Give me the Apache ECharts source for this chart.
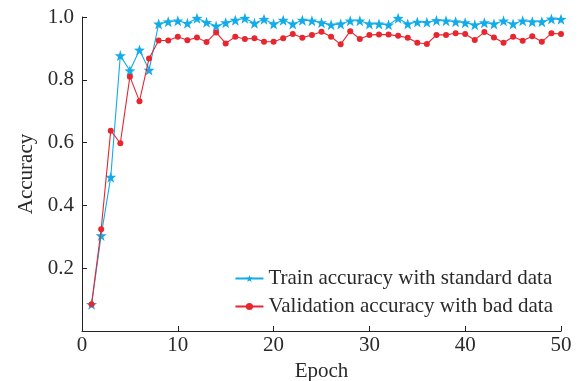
<!DOCTYPE html>
<html><head><meta charset="utf-8">
<script src="https://cdn.jsdelivr.net/npm/echarts@6/dist/echarts.min.js"></script>
<style>html,body{margin:0;padding:0;background:#fff}#c{width:585px;height:381px}</style>
</head><body><div id="c"></div>
<script>
const epochs = [1,2,3,4,5,6,7,8,9,10,11,12,13,14,15,16,17,18,19,20,21,22,23,24,25,26,27,28,29,30,31,32,33,34,35,36,37,38,39,40,41,42,43,44,45,46,47,48,49,50];
const trainStandard = [0.085,0.304,0.490,0.877,0.829,0.895,0.831,0.978,0.985,0.988,0.980,0.996,0.983,0.971,0.982,0.990,0.996,0.980,0.993,0.978,0.990,0.978,0.990,0.988,0.982,0.975,0.978,0.988,0.988,0.978,0.978,0.975,0.996,0.978,0.984,0.983,0.989,0.988,0.985,0.982,0.975,0.982,0.978,0.988,0.978,0.988,0.985,0.985,0.994,0.993];
const valBad = [0.085,0.324,0.638,0.598,0.810,0.732,0.868,0.925,0.925,0.937,0.926,0.935,0.920,0.951,0.916,0.937,0.930,0.932,0.921,0.921,0.932,0.946,0.934,0.943,0.953,0.937,0.913,0.955,0.930,0.943,0.944,0.944,0.940,0.934,0.918,0.914,0.943,0.943,0.948,0.946,0.927,0.952,0.935,0.918,0.937,0.924,0.939,0.921,0.948,0.946];
const seriesNames = ['Train accuracy with standard data','Validation accuracy with bad data'];
const xTitle = 'Epoch', yTitle = 'Accuracy';

const font = 'Liberation Serif';
const txt = '#2a2a2a';
const fs = 21;
const chart = echarts.init(document.getElementById('c'));
chart.setOption({
  animation: false,
  grid: {left: 82, right: 24, top: 17, bottom: 50, containLabel: false, outerBoundsMode: 'none'},
  legend: {
    right: 27, bottom: 59, orient: 'vertical', itemGap: 7,
    itemWidth: 28, itemHeight: 9,
    textStyle: {fontFamily: font, fontSize: fs, lineHeight: 21, color: txt},
    data: seriesNames
  },
  xAxis: {
    type: 'value', min: 0, max: 50, interval: 10,
    name: xTitle, nameLocation: 'middle', nameGap: 27,
    nameTextStyle: {fontFamily: font, fontSize: fs, color: txt},
    axisLine: {lineStyle: {color: '#222', width: 1}},
    axisTick: {inside: true, length: 5, lineStyle: {color: '#222'}},
    axisLabel: {fontFamily: font, fontSize: fs, color: txt, margin: 4},
    splitLine: {show: false}
  },
  yAxis: {
    type: 'value', min: 0, max: 1, interval: 0.2,
    name: yTitle, nameLocation: 'middle', nameGap: 45,
    nameTextStyle: {fontFamily: font, fontSize: fs, color: txt},
    axisLine: {show: true, lineStyle: {color: '#222', width: 1}},
    axisTick: {show: true, inside: true, length: 5, lineStyle: {color: '#222'}},
    axisLabel: {fontFamily: font, fontSize: fs, color: txt, margin: 8,
      formatter: v => v === 0 ? '' : v.toFixed(1)},
    splitLine: {show: false}
  },
  series: [
    {name: seriesNames[0], type: 'line', data: epochs.map((e,i)=>[e,trainStandard[i]]),
     symbol: 'path://M0,-10 L2.35,-3.24 L9.51,-3.09 L3.8,1.24 L5.88,8.09 L0,4 L-5.88,8.09 L-3.8,1.24 L-9.51,-3.09 L-2.35,-3.24 Z',
     symbolSize: 11, showSymbol: true,
     lineStyle: {color: '#12ace8', width: 1.1}, itemStyle: {color: '#12ace8'}, z: 2},
    {name: seriesNames[1], type: 'line', data: epochs.map((e,i)=>[e,valBad[i]]),
     symbol: 'circle', symbolSize: 6, showSymbol: true,
     lineStyle: {color: '#e8262f', width: 1.1}, itemStyle: {color: '#e8262f'}, z: 3}
  ]
});
</script></body></html>
